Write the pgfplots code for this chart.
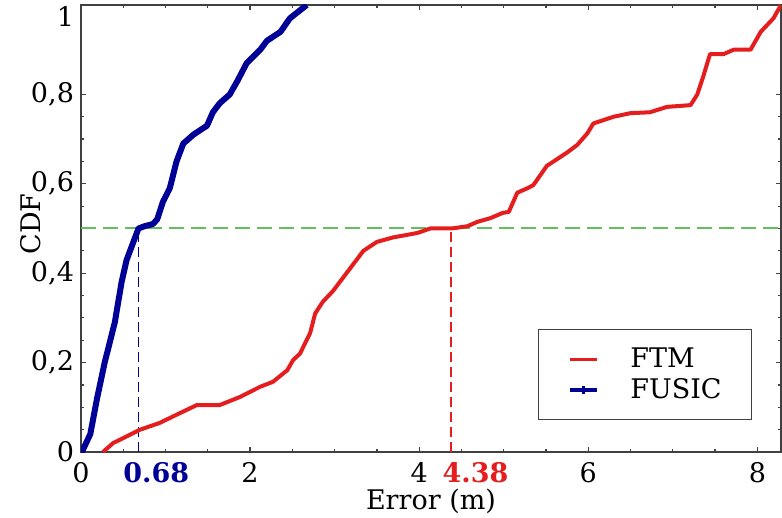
\documentclass[border=0pt]{standalone}
\usepackage{fontspec}
\setmainfont{DejaVu Serif}
\usepackage{pgfplots}
\pgfplotsset{compat=1.18}
\definecolor{ftm}{RGB}{228,30,30}
\definecolor{fusic}{RGB}{0,0,150}
\definecolor{half}{RGB}{100,190,95}

\begin{document}
\begin{tikzpicture}
\begin{axis}[
    name=ax,
    scale only axis,
    width=350pt, height=223.5pt,
    xmin=0, xmax=8.28, ymin=0, ymax=1,
    xtick={0,2,4,6,8},
    ytick={0,0.2,0.4,0.6,0.8},
    minor x tick num=3, minor y tick num=3,
    major tick length=2.5pt, minor tick length=1.5pt,
    tick style={black!75, line width=0.6pt},
    axis line style={black!75, line width=0.8pt},
    font=\fontsize{13.5}{16}\selectfont,
    /pgf/number format/assume math mode=true,
    /pgf/number format/use comma,
    xticklabel style={yshift=-1.5pt},
    xlabel={Error (m)}, ylabel={CDF},
    xlabel style={at={(axis description cs:0.5,0)}, anchor=north, yshift=-15pt},
    ylabel style={at={(axis description cs:-0.047,0.51)}, anchor=south},
    extra y ticks={1},
    extra y tick style={tick label style={yshift=-5.5pt}},
    extra x ticks={0.68,4.38},
    extra x tick labels={\textcolor{fusic}{\textbf{0.68}},\hspace*{3.25pt}\textcolor{ftm}{\textbf{4.38}}},
    extra x tick style={major tick length=0pt, tick style={draw=none},
        tick label style={anchor=north west, inner xsep=0pt, xshift=-7.75pt}},
    legend style={at={(rel axis cs:0.9586,0.0716)}, anchor=south east,
        draw=black!75, inner xsep=15pt, inner ysep=7pt, row sep=0pt,
        column sep=16pt, nodes={inner xsep=0pt}},
    legend cell align=left,
    legend image code/.code={
        \draw[mark repeat=2, mark phase=2, #1] plot coordinates {(0pt,0pt) (6.75pt,0pt) (13.5pt,0pt)};},
    legend image post style={line width=1.6pt},
]
% median guides
\addplot[half, line width=1pt, dash pattern=on 7.5pt off 3.5pt, forget plot]
    coordinates {(0,0.5) (8.28,0.5)};
\addplot[fusic, line width=0.9pt, dash pattern=on 5pt off 2.5pt, forget plot]
    coordinates {(0.68,0) (0.68,0.5)};
\addplot[ftm, line width=0.9pt, dash pattern=on 5pt off 2.5pt, forget plot]
    coordinates {(4.38,0) (4.38,0.5)};

% FTM
\addplot[ftm, line width=2pt, line join=round] coordinates {
(0.26,0) (0.38,0.02) (0.54,0.035) (0.70,0.05) (0.93,0.065) (1.17,0.087)
(1.37,0.105) (1.64,0.105) (1.88,0.123) (2.12,0.146) (2.27,0.157) (2.44,0.183)
(2.51,0.206) (2.59,0.22) (2.71,0.266) (2.77,0.31) (2.86,0.336) (2.98,0.36)
(3.10,0.39) (3.22,0.42) (3.34,0.45) (3.50,0.47) (3.69,0.48) (3.98,0.49)
(4.13,0.50) (4.38,0.50) (4.57,0.505) (4.69,0.515) (4.84,0.523) (4.99,0.535)
(5.06,0.537) (5.16,0.58) (5.28,0.59) (5.35,0.597) (5.51,0.64) (5.75,0.67)
(5.87,0.687) (5.99,0.713) (6.06,0.735) (6.30,0.75) (6.50,0.758) (6.73,0.76)
(6.93,0.772) (7.21,0.776) (7.29,0.80) (7.36,0.84) (7.44,0.89) (7.60,0.89)
(7.72,0.90) (7.92,0.90) (8.04,0.94) (8.19,0.97) (8.28,1.0)
};
\addlegendentry{FTM}

% FUSIC
\addplot[fusic, line width=3pt, line join=round, forget plot] coordinates {
(0,0) (0.01,0) (0.11,0.04) (0.19,0.12) (0.28,0.2) (0.40,0.29) (0.48,0.38)
(0.54,0.43) (0.62,0.47) (0.68,0.50) (0.75,0.505) (0.85,0.51) (0.90,0.52)
(0.97,0.56) (1.05,0.59) (1.13,0.65) (1.21,0.69) (1.33,0.71) (1.49,0.73)
(1.56,0.76) (1.64,0.78) (1.76,0.80) (1.85,0.83) (1.96,0.87) (2.12,0.90)
(2.20,0.92) (2.36,0.94) (2.47,0.97) (2.67,1.0)
};
\addlegendimage{fusic, mark=|, mark size=2pt}
\addlegendentry{FUSIC}
\end{axis}
\pgfresetboundingbox
\path ([xshift=-40.5pt,yshift=-32.5pt]ax.south west) rectangle ([xshift=0.5pt,yshift=2.5pt]ax.north east);
\end{tikzpicture}
\end{document}
